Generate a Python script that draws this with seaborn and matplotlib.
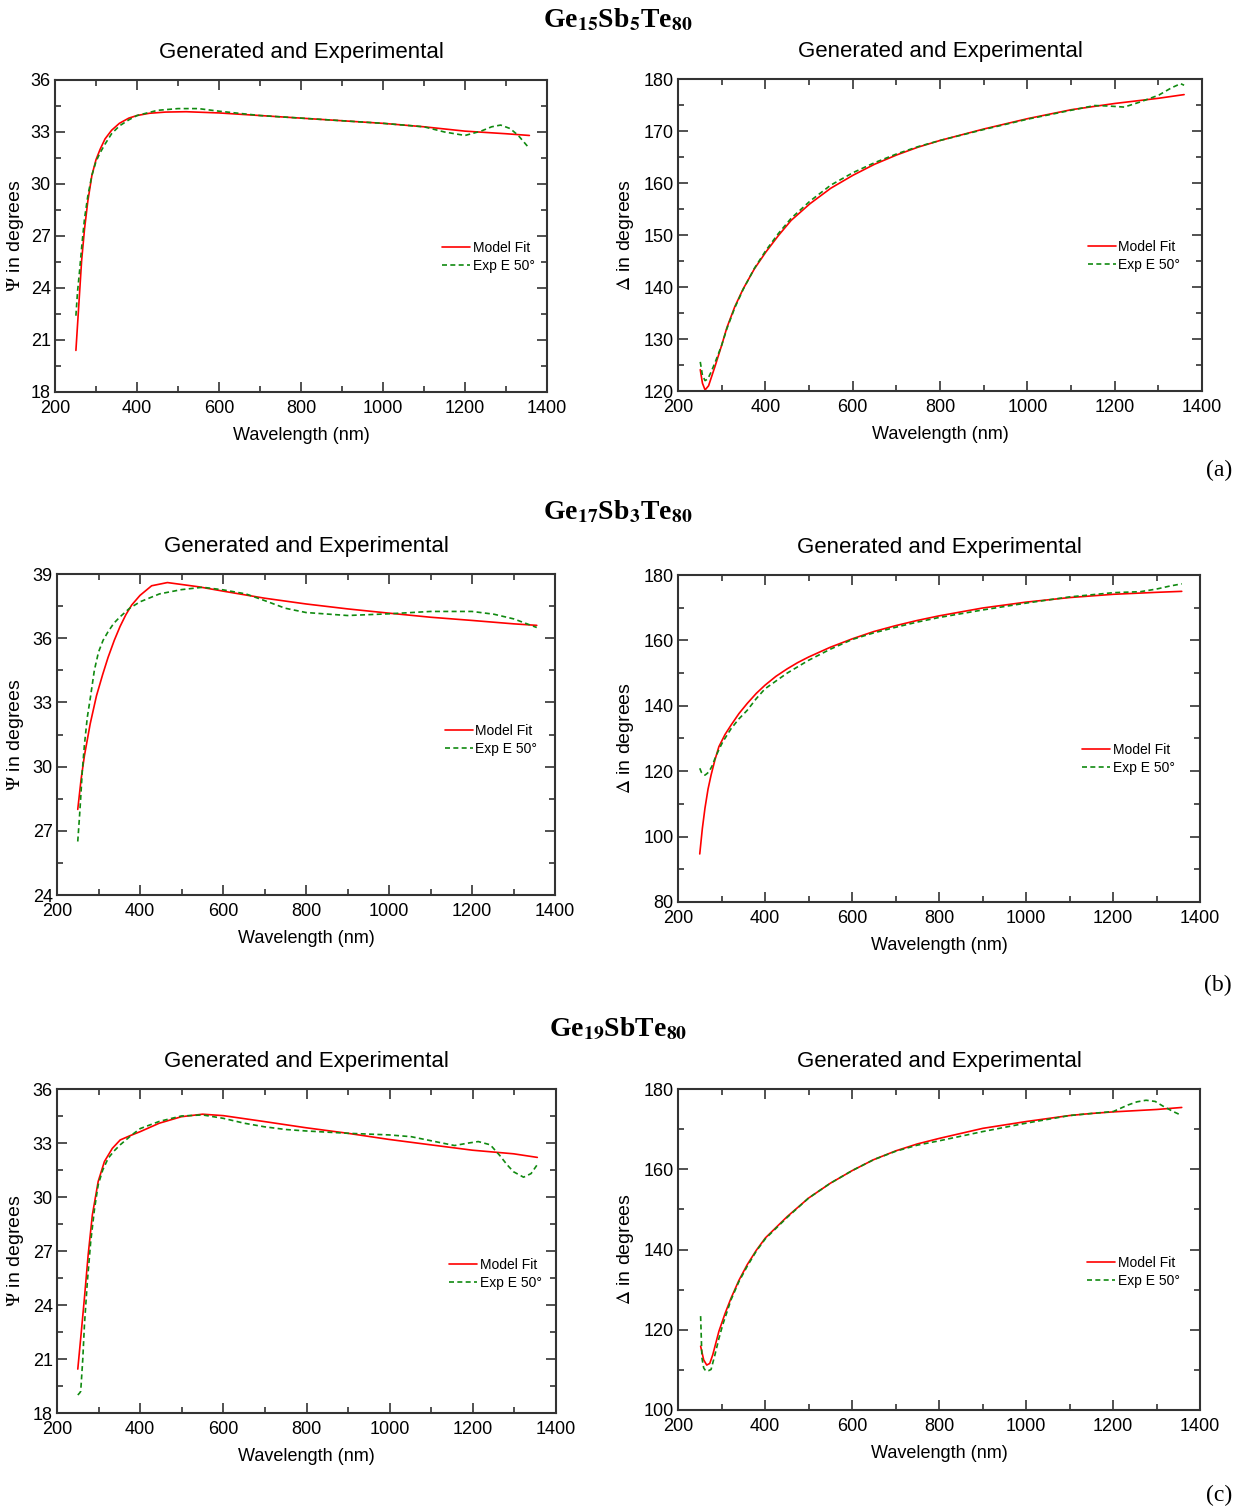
import numpy as np
import seaborn as sns
import matplotlib.pyplot as plt
from matplotlib.ticker import MultipleLocator

# ---------------- data ----------------
# (a) Ge15Sb5Te80
wl_a_psi_fit = [251, 258, 265, 272, 280, 290, 300, 310, 322, 338, 357, 380, 400, 430, 470, 520,
                600, 700, 800, 900, 1000, 1100, 1200, 1300, 1357]
psi_a_fit = [20.4, 23.0, 25.6, 27.4, 29.0, 30.5, 31.4, 32.0, 32.6, 33.1, 33.5, 33.8, 33.95, 34.08,
             34.15, 34.17, 34.1, 33.95, 33.8, 33.65, 33.5, 33.3, 33.05, 32.9, 32.8]
wl_a_psi_exp = [251, 255, 260, 266, 272, 280, 290, 300, 310, 322, 338, 357, 380, 400, 450, 500,
                550, 600, 700, 800, 900, 1000, 1100, 1150, 1200, 1239, 1265, 1287, 1310, 1330, 1357]
psi_a_exp = [22.4, 23.8, 25.0, 26.6, 28.0, 29.3, 30.5, 31.3, 31.8, 32.3, 32.9, 33.35, 33.7, 33.95,
             34.25, 34.35, 34.35, 34.2, 33.95, 33.8, 33.65, 33.5, 33.3, 33.0, 32.8, 33.05, 33.3,
             33.4, 33.2, 32.8, 32.05]
wl_a_del_fit = [251, 256, 262, 270, 285, 300, 312, 330, 349, 375, 401, 430, 459, 502, 550, 601,
                650, 701, 750, 801, 901, 1002, 1101, 1201, 1301, 1359]
del_a_fit = [124.1, 121.5, 120.2, 121.0, 124.8, 128.8, 132.2, 136.2, 139.6, 143.5, 146.7, 149.9,
             152.8, 156.0, 159.0, 161.5, 163.6, 165.4, 166.9, 168.2, 170.4, 172.4, 174.1, 175.3,
             176.3, 177.0]
wl_a_del_exp = [251, 256, 262, 268, 275, 285, 300, 312, 330, 349, 375, 401, 430, 459, 502, 550,
                601, 650, 701, 750, 801, 901, 1002, 1101, 1154, 1186, 1222, 1259, 1301, 1330,
                1351, 1359]
del_a_exp = [125.6, 123.0, 122.0, 122.3, 123.5, 125.5, 128.8, 132.0, 136.0, 139.5, 143.6, 147.0,
             150.3, 153.2, 156.5, 159.6, 162.0, 163.9, 165.6, 167.0, 168.2, 170.3, 172.3, 174.0,
             174.9, 174.8, 174.6, 175.6, 176.9, 178.3, 179.1, 178.8]

# (b) Ge17Sb3Te80
wl_b_psi_fit = [250, 258, 266, 280, 295, 310, 323, 338, 352, 366, 380, 400, 428, 466, 504, 542,
                600, 700, 800, 900, 1000, 1100, 1200, 1301, 1356]
psi_b_fit = [28.0, 29.4, 30.5, 32.0, 33.3, 34.3, 35.1, 35.9, 36.55, 37.1, 37.55, 38.0, 38.45, 38.6,
             38.5, 38.4, 38.2, 37.87, 37.6, 37.37, 37.17, 36.98, 36.83, 36.67, 36.6]
wl_b_psi_exp = [250, 254, 257, 261, 266, 273, 281, 290, 300, 311, 323, 337, 352, 375, 400, 447,
                500, 551, 600, 655, 700, 750, 800, 900, 1000, 1100, 1200, 1253, 1301, 1356]
psi_b_exp = [26.5, 27.6, 28.5, 29.8, 31.0, 32.3, 33.3, 34.5, 35.35, 35.9, 36.3, 36.7, 37.0, 37.4,
             37.7, 38.07, 38.27, 38.38, 38.26, 38.07, 37.76, 37.4, 37.2, 37.06, 37.14, 37.25,
             37.25, 37.12, 36.9, 36.5]
wl_b_del_fit = [250, 256, 262, 269, 276, 285, 294, 308, 322, 340, 359, 380, 400, 425, 451, 475,
                500, 550, 601, 650, 700, 750, 800, 900, 1000, 1100, 1201, 1300, 1358]
del_b_fit = [94.7, 102.5, 108.7, 114.5, 118.8, 123.5, 127.5, 131.2, 134.1, 137.6, 140.7, 143.8,
             146.3, 149.0, 151.3, 153.2, 154.9, 157.9, 160.5, 162.7, 164.5, 166.1, 167.5, 169.9,
             171.7, 173.1, 174.1, 174.7, 175.0]
wl_b_del_exp = [250, 254, 258, 262, 266, 271, 278, 285, 294, 303, 322, 340, 359, 380, 400, 451,
                500, 550, 601, 650, 700, 750, 800, 900, 1000, 1100, 1201, 1263, 1300, 1330, 1358]
del_b_exp = [120.9, 119.6, 119.0, 118.8, 119.2, 119.8, 121.5, 123.9, 126.6, 129.0, 133.0, 136.0,
             138.6, 142.2, 145.2, 150.0, 153.9, 157.3, 160.3, 162.3, 164.0, 165.6, 167.0, 169.3,
             171.4, 173.3, 174.6, 174.9, 175.7, 176.6, 177.3]

# (c) Ge19SbTe80
wl_c_psi_fit = [250, 258, 266, 275, 285, 299, 314, 333, 352, 375, 400, 446, 499, 550, 600, 699,
                798, 899, 998, 1098, 1199, 1298, 1355]
psi_c_fit = [20.44, 22.4, 24.4, 26.8, 29.0, 30.86, 31.97, 32.7, 33.17, 33.4, 33.63, 34.1, 34.46,
             34.6, 34.52, 34.19, 33.85, 33.54, 33.2, 32.9, 32.6, 32.4, 32.2]
wl_c_psi_exp = [250, 254, 257, 262, 266, 273, 281, 290, 299, 310, 323, 337, 352, 380, 400, 446,
                499, 550, 600, 650, 699, 750, 798, 899, 998, 1052, 1109, 1156, 1190, 1213, 1242,
                1265, 1282, 1298, 1322, 1340, 1355]
psi_c_exp = [19.0, 19.1, 19.2, 21.0, 22.9, 25.3, 27.5, 29.3, 30.67, 31.5, 32.15, 32.55, 32.9,
             33.45, 33.8, 34.2, 34.5, 34.56, 34.37, 34.1, 33.9, 33.75, 33.67, 33.54, 33.45, 33.35,
             33.08, 32.86, 33.0, 33.08, 32.9, 32.3, 31.8, 31.4, 31.1, 31.3, 31.8]
wl_c_del_fit = [252, 259, 266, 273, 280, 294, 308, 322, 340, 359, 380, 401, 451, 500, 550, 601,
                650, 701, 750, 801, 901, 1001, 1101, 1150, 1201, 1301, 1358]
del_c_fit = [115.9, 112.5, 111.2, 111.6, 113.8, 119.6, 124.0, 127.9, 132.3, 136.2, 139.8, 142.9,
             148.2, 152.8, 156.5, 159.7, 162.4, 164.6, 166.3, 167.7, 170.2, 171.9, 173.4, 173.9,
             174.3, 174.9, 175.4]
wl_c_del_exp = [252, 255, 259, 264, 270, 276, 285, 294, 303, 322, 340, 359, 380, 401, 451, 500,
                550, 601, 650, 701, 750, 801, 901, 1001, 1101, 1201, 1234, 1255, 1276, 1297, 1317,
                1340, 1358]
del_c_exp = [123.4, 113.0, 110.5, 109.7, 109.8, 110.1, 113.8, 117.8, 121.3, 127.5, 132.0, 135.8,
             139.6, 142.7, 148.0, 152.8, 156.5, 159.7, 162.4, 164.5, 166.0, 167.1, 169.4, 171.5,
             173.4, 174.4, 176.0, 176.8, 177.2, 176.9, 175.6, 174.3, 173.4]

compositions = [r'Ge$_{\mathbf{15}}$Sb$_{\mathbf{5}}$Te$_{\mathbf{80}}$',
                r'Ge$_{\mathbf{17}}$Sb$_{\mathbf{3}}$Te$_{\mathbf{80}}$',
                r'Ge$_{\mathbf{19}}$SbTe$_{\mathbf{80}}$']
panel_tags = ['(a)', '(b)', '(c)']

# ---------------- style ----------------
sns.set_style('ticks')
plt.rcParams['font.family'] = ['Liberation Sans', 'DejaVu Sans']
plt.rcParams['mathtext.fontset'] = 'stix'
for key in ['text.color', 'axes.labelcolor', 'xtick.color', 'ytick.color']:
    plt.rcParams[key] = 'black'

W, H = 1240, 1508
fig = plt.figure(figsize=(W / 100, H / 100), dpi=100)


def px_axes(left, right, top, bottom):
    return fig.add_axes([left / W, 1 - bottom / H, (right - left) / W, (bottom - top) / H])


def draw_panel(ax, box, wl_fit, fit, wl_exp, exp, ylim, ymaj, ylabel, leg_xy, label_px):
    sns.lineplot(x=wl_fit, y=fit, ax=ax, color='red', linewidth=1.2, label='Model Fit')
    sns.lineplot(x=wl_exp, y=exp, ax=ax, color='#108a10', linewidth=1.2,
                 linestyle=(0, (3, 2)), label='Exp E 50°')
    ax.set_xlim(200, 1400)
    ax.set_ylim(*ylim)
    ax.xaxis.set_major_locator(MultipleLocator(200))
    ax.xaxis.set_minor_locator(MultipleLocator(100))
    ax.yaxis.set_major_locator(MultipleLocator(ymaj))
    ax.yaxis.set_minor_locator(MultipleLocator(ymaj / 2))
    ax.tick_params(which='both', direction='in', top=True, right=True,
                   width=1.2, color='#333333', labelsize=13)
    ax.tick_params(axis='x', pad=6)
    ax.tick_params(axis='y', pad=3)
    ax.tick_params(which='major', length=7)
    ax.tick_params(which='minor', length=4)
    for s in ax.spines.values():
        s.set_linewidth(1.5)
        s.set_color('#333333')
    ax.set_title('Generated and Experimental', fontsize=16, pad=16)
    ax.set_xlabel('Wavelength (nm)', fontsize=13, labelpad=7)
    ax.set_ylabel(ylabel, fontsize=14)
    left, right = box[0], box[1]
    # label_px is where the right edge of the rotated label sits
    ax.yaxis.set_label_coords((label_px - left) / (right - left), 0.5)
    ax.legend(loc='center left', bbox_to_anchor=leg_xy, frameon=False, borderaxespad=0,
              borderpad=0, fontsize=10, handlelength=2.0, handletextpad=0.2,
              labelspacing=0.3)


panels = [
    ((55, 547, 80, 392), (678, 1202, 79, 391),
     (wl_a_psi_fit, psi_a_fit, wl_a_psi_exp, psi_a_exp, (18, 36), 3),
     (wl_a_del_fit, del_a_fit, wl_a_del_exp, del_a_exp, (120, 180), 10)),
    ((57, 555, 574, 895), (678, 1200, 575, 902),
     (wl_b_psi_fit, psi_b_fit, wl_b_psi_exp, psi_b_exp, (24, 39), 3),
     (wl_b_del_fit, del_b_fit, wl_b_del_exp, del_b_exp, (80, 180), 20)),
    ((57, 556, 1089, 1413), (678, 1200, 1089, 1410),
     (wl_c_psi_fit, psi_c_fit, wl_c_psi_exp, psi_c_exp, (18, 36), 3),
     (wl_c_del_fit, del_c_fit, wl_c_del_exp, del_c_exp, (100, 180), 20)),
]
head_y = [20, 512, 1028]
tag_y = [470, 985, 1495]
leg_left = [(0.787, 0.434), (0.779, 0.484), (0.786, 0.43)]
leg_right = [(0.782, 0.434), (0.774, 0.437), (0.784, 0.431)]

for i, (box_l, box_r, d_psi, d_del) in enumerate(panels):
    ax_l = px_axes(*box_l)
    ax_r = px_axes(*box_r)
    draw_panel(ax_l, box_l, *d_psi, r'$\Psi$ in degrees', leg_left[i], 26)
    draw_panel(ax_r, box_r, *d_del, r'$\Delta$ in degrees', leg_right[i], 636)
    fig.text(618 / W, 1 - head_y[i] / H, compositions[i], ha='center', va='center',
             fontsize=20, fontweight='bold', family='Liberation Serif')
    fig.text(1232 / W, 1 - tag_y[i] / H, panel_tags[i], ha='right', va='center',
             fontsize=17, family='Liberation Serif')

fig.savefig('out.png', dpi=100, facecolor='white')
